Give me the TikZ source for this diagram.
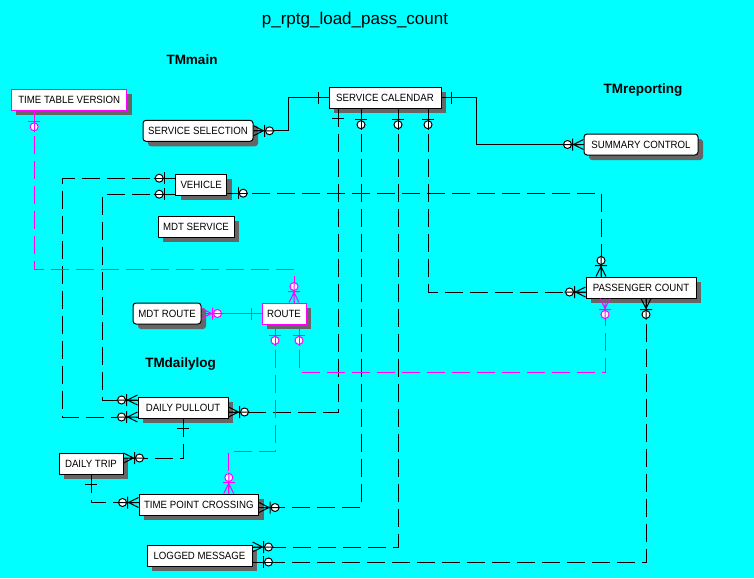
\documentclass[tikz,border=0pt]{standalone}
\usepackage{fontspec}
\setmainfont{Liberation Sans}
\newfontfamily\entfont{Liberation Sans}[FakeStretch=0.92]
\usepackage{tikz}
\usetikzlibrary{shadows}

\definecolor{bg}{RGB}{0,255,255}
\definecolor{mg}{RGB}{255,0,255}

\begin{document}
\begin{tikzpicture}[x=1pt, y=-1pt, line width=1pt,
    % crow's foot + bar + circle
    crowend/.pic={
        \draw[solid, fill=white] (16,0) circle[radius=4];
        \draw[solid] (0,0) -- (21,0) (11,-6) -- (11,6) (0,5) -- (10,0) -- (0,-5);
    },
    % bar + circle
    optend/.pic={
        \draw[solid, fill=white] (16,0) circle[radius=4];
        \draw[solid] (0,0) -- (21,0) (11,-6) -- (11,6);
    },
    % bar only
    barend/.pic={
        \draw[solid] (0,0) -- (14,0) (10,-6) -- (10,6);
    }]

    % --- DEFINE STYLES ---
    % Style for entity boxes
    \tikzstyle{ent} = [draw, fill=white, inner sep=0pt, minimum height=21pt,
        font=\entfont\fontsize{10.5}{12}\selectfont,
        drop shadow={shadow xshift=5pt, shadow yshift=-5pt, opacity=1, fill=black!60}]
    % Style for entity boxes with rounded corners
    \tikzstyle{rent} = [ent, rounded corners=3pt]
    % Style for subject area titles
    \tikzstyle{area} = [anchor=base, font=\fontsize{13.5}{15}\selectfont\bfseries]
    % Style for non-identifying relationships
    \tikzstyle{rel} = [dash pattern=on 18pt off 7pt]

    % Background
    \path[use as bounding box, fill=bg] (0,0) rectangle (754,578);

    % Titles
    \node[anchor=base, font=\fontsize{17}{19}\selectfont] (title) at (355,25) {p\_rptg\_load\_pass\_count};
    \node[area] (tmmain) at (192,64) {TMmain};
    \node[area] (tmrep) at (643,93) {TMreporting};
    \node[area] (tmdaily) at (180.5,367) {TMdailylog};

    % --- ENTITIES ---
    \node[ent, draw=mg, minimum width=115.5pt] (ttv) at (69.2,99.8) {TIME TABLE VERSION};
    \node[rent, minimum width=110pt] (ssel) at (198,130.8) {SERVICE SELECTION};
    \node[ent, minimum width=112pt] (scal) at (385,97.7) {SERVICE CALENDAR};
    \node[rent, minimum width=114pt] (summ) at (641,144.5) {SUMMARY CONTROL};
    \node[ent, minimum width=51pt] (veh) at (201.2,184.7) {VEHICLE};
    \node[ent, minimum width=76pt] (mdts) at (196,226.5) {MDT SERVICE};
    \node[rent, minimum width=68pt] (mdtr) at (167,313.5) {MDT ROUTE};
    \node[ent, draw=mg, minimum width=44pt] (route) at (284,313.5) {ROUTE};
    \node[ent, minimum width=110pt] (pc) at (641,287.5) {PASSENGER COUNT};
    \node[ent, minimum width=90pt] (dpo) at (183,407.5) {DAILY PULLOUT};
    \node[ent, minimum width=64pt] (dtrip) at (91,463.5) {DAILY TRIP};
    \node[ent, minimum width=119.5pt] (tpc) at (198.8,504.5) {TIME POINT CROSSING};
    \node[ent, minimum width=105pt] (logm) at (199.5,555.5) {LOGGED MESSAGE};

    % --- RELATIONSHIPS ---
    % identifying (solid)
    \draw (ssel.east) -- ++(35,0) |- (scal.west);
    \draw (scal.east) -- ++(35,0) |- (summ.west);
    \draw[mg] (mdtr.east) -- (route.west);

    % from SERVICE CALENDAR
    \draw[rel] ([xshift=-47pt]scal.south) |- ([yshift=-4.5pt]dpo.east);
    \draw[rel] ([xshift=-24pt]scal.south) |- ([yshift=-3pt]tpc.east);
    \draw[rel] ([xshift=13pt]scal.south) |- ([yshift=8.5pt]logm.east);
    \draw[rel] ([xshift=43pt]scal.south) |- ([yshift=-4.5pt]pc.west);

    % from VEHICLE
    \draw[rel] ([yshift=-8.5pt]veh.east) -| ([xshift=-40pt]pc.north);
    \draw[rel] ([yshift=6.5pt]veh.west) -- ++(-112.5,0) |- ([yshift=-9.5pt]dpo.west);
    \draw[rel] ([yshift=-9.5pt]veh.west) -- ++(-72.5,0) |- ([yshift=7.5pt]dpo.west);

    % from TIME TABLE VERSION and ROUTE
    \draw[rel, mg] ([xshift=-35pt]ttv.south) -- ++(0,158.5) -| ([xshift=10pt]route.north);
    \draw[rel, mg] ([xshift=15pt]route.south) -- ++(0,47.5) -| ([xshift=-36pt]pc.south);
    \draw[rel, mg] ([xshift=-9pt]route.south) -- ++(0,127) -| ([xshift=30pt]tpc.north);

    % daily log
    \draw[rel] (dpo.south) |- ([yshift=5.5pt]dtrip.east);
    \draw[rel] (dtrip.south) |- ([yshift=2pt]tpc.west);
    \draw[rel] ([xshift=5pt]pc.south) |- ([yshift=-6.5pt]logm.east);

    % --- RELATIONSHIP ENDS ---
    \pic at (ssel.east) {crowend};
    \pic[rotate=180] at (scal.west) {barend};
    \pic at (scal.east) {barend};
    \pic[rotate=180] at (summ.west) {crowend};
    \pic[rotate=-90] at ([xshift=-47pt]scal.south) {barend};
    \foreach \dx in {-24,13,43}
        \pic[rotate=-90] at ([xshift=\dx pt]scal.south) {optend};
    \pic at ([yshift=-4.5pt]dpo.east) {crowend};
    \pic at ([yshift=-3pt]tpc.east) {crowend};
    \pic at ([yshift=8.5pt]logm.east) {crowend};
    \pic at ([yshift=-6.5pt]logm.east) {optend};
    \pic[rotate=180] at ([yshift=-4.5pt]pc.west) {crowend};
    \pic[rotate=90] at ([xshift=-40pt]pc.north) {crowend};
    \pic[rotate=-90] at ([xshift=5pt]pc.south) {crowend};
    \pic at ([yshift=-8.5pt]veh.east) {optend};
    \foreach \dy in {6.5,-9.5}
        \pic[rotate=180] at ([yshift=\dy pt]veh.west) {optend};
    \foreach \dy in {7.5,-9.5}
        \pic[rotate=180] at ([yshift=\dy pt]dpo.west) {crowend};
    \pic[rotate=-90] at (dpo.south) {barend};
    \pic at ([yshift=5.5pt]dtrip.east) {crowend};
    \pic[rotate=-90] at (dtrip.south) {barend};
    \pic[rotate=180] at ([yshift=2pt]tpc.west) {crowend};

    % magenta ends
    \pic[rotate=-90, color=mg] at ([xshift=-35pt]ttv.south) {optend};
    \pic[rotate=90, color=mg] at ([xshift=10pt]route.north) {crowend};
    \pic[color=mg] at (mdtr.east) {crowend};
    \pic[rotate=180, color=mg] at (route.west) {barend};
    \foreach \dx in {15,-9}
        \pic[rotate=-90, color=mg] at ([xshift=\dx pt]route.south) {optend};
    \pic[rotate=-90, color=mg] at ([xshift=-36pt]pc.south) {crowend};
    \pic[rotate=90, color=mg] at ([xshift=30pt]tpc.north) {crowend};
\end{tikzpicture}
\end{document}
